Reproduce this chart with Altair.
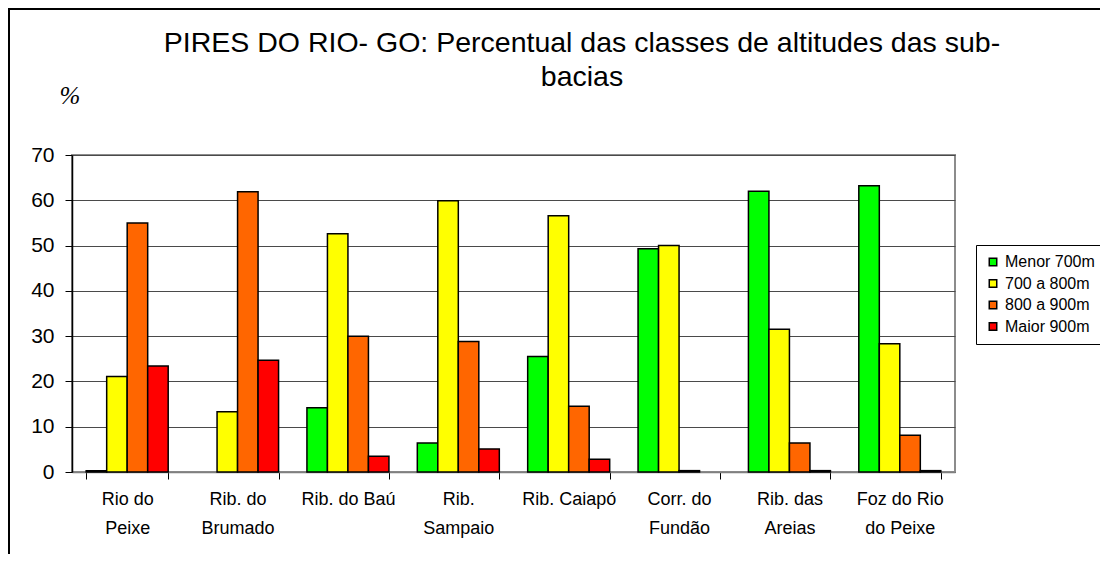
import altair as alt
import pandas as pd

title_lines = ["PIRES DO RIO- GO: Percentual das classes de altitudes das sub-", "bacias"]
categories = ["Rio do Peixe", "Rib. do Brumado", "Rib. do Baú", "Rib. Sampaio",
              "Rib. Caiapó", "Corr. do Fundão", "Rib. das Areias", "Foz do Rio do Peixe"]
label_lines = [["Rio do", "Peixe"], ["Rib. do", "Brumado"], ["Rib. do Baú"], ["Rib.", "Sampaio"],
               ["Rib. Caiapó"], ["Corr. do", "Fundão"], ["Rib. das", "Areias"], ["Foz do Rio", "do Peixe"]]
series = ["Menor 700m", "700 a 800m", "800 a 900m", "Maior 900m"]
colors = ["#00FF00", "#FFFF00", "#FF6600", "#FF0000"]

menor_700 = [0.3, 0.0, 14.2, 6.4, 25.5, 49.3, 62.0, 63.2]
de_700_800 = [21.1, 13.3, 52.6, 59.9, 56.6, 50.0, 31.5, 28.3]
de_800_900 = [55.0, 61.9, 30.0, 28.8, 14.5, 0.3, 6.4, 8.1]
maior_900 = [23.4, 24.7, 3.5, 5.1, 2.8, 0.0, 0.3, 0.3]

rows = []
for s, vals in zip(series, [menor_700, de_700_800, de_800_900, maior_900]):
    for c, v in zip(categories, vals):
        rows.append({"bacia": c, "classe": s, "valor": v})
df = pd.DataFrame(rows)

label_map = "{" + ", ".join(
    "'" + c + "': [" + ", ".join("'" + l + "'" for l in ls) + "]"
    for c, ls in zip(categories, label_lines)) + "}"

FONT = "Liberation Sans"

bars = alt.Chart(df).transform_filter("datum.valor > 0").mark_bar(
    stroke="black", strokeWidth=1.5
).encode(
    x=alt.X("bacia:N", sort=categories,
            scale=alt.Scale(paddingInner=0.257, paddingOuter=0.1285),
            axis=alt.Axis(title=None, labelAngle=0, labelExpr=label_map + "[datum.value]",
                          tickBand="extent", tickSize=7, tickColor="#000000",
                          domainColor="#808080", domainWidth=1.5,
                          labelFont=FONT, labelFontSize=18, labelColor="#000000",
                          labelLineHeight=29, labelPadding=11, labelBaseline="top")),
    xOffset=alt.XOffset("classe:N", sort=series, scale=alt.Scale(paddingInner=0, paddingOuter=0)),
    y=alt.Y("valor:Q", scale=alt.Scale(domain=[0, 70], nice=False),
            axis=alt.Axis(values=[0, 10, 20, 30, 40, 50, 60, 70], title="%",
                          titleAngle=0, titleFont="Liberation Serif", titleFontStyle="italic",
                          titleFontWeight="normal", titleFontSize=25, titleColor="#000000",
                          titleX=-13, titleY=-52, titleAlign="left", titleBaseline="alphabetic",
                          tickSize=7, tickColor="#000000", domainColor="#000000", domainWidth=1.5,
                          labelFont=FONT, labelFontSize=21, labelColor="#000000", labelPadding=11,
                          grid=True, gridColor="#4a4a4a", gridWidth=1.2)),
    color=alt.Color("classe:N", sort=series,
                    scale=alt.Scale(domain=series, range=colors),
                    legend=alt.Legend(title=None, orient="none", legendX=904, legendY=90,
                                      strokeColor="#000000", fillColor="#FFFFFF", padding=9,
                                      symbolType="square", symbolSize=56, symbolStrokeColor="#000000",
                                      symbolStrokeWidth=1.5, symbolOpacity=1,
                                      labelFont=FONT, labelFontSize=16, labelColor="#000000",
                                      labelOffset=4, rowPadding=5.5)),
)

frame = alt.Chart(pd.DataFrame({"k": [0]})).mark_rect(
    filled=False, stroke="black", strokeWidth=2
).encode(
    x=alt.value(-63), x2=alt.value(1200), y=alt.value(-146), y2=alt.value(600)
)

title = alt.Chart(pd.DataFrame({"k": [0]})).mark_text(
    font=FONT, fontSize=28.5, color="#000000", align="center", baseline="alphabetic",
    lineHeight=34
).encode(
    x=alt.value(510), y=alt.value(-103), text=alt.value(title_lines)
)

chart = alt.layer(frame, bars, title).properties(
    width=883, height=317,
    padding={"left": 64, "top": 147, "right": 145, "bottom": 82},
    autosize=alt.AutoSizeParams(type="none"),
).configure_view(stroke="#8c8c8c", strokeWidth=2)

chart.save("out.html", embed_options={"renderer": "svg", "actions": False})
